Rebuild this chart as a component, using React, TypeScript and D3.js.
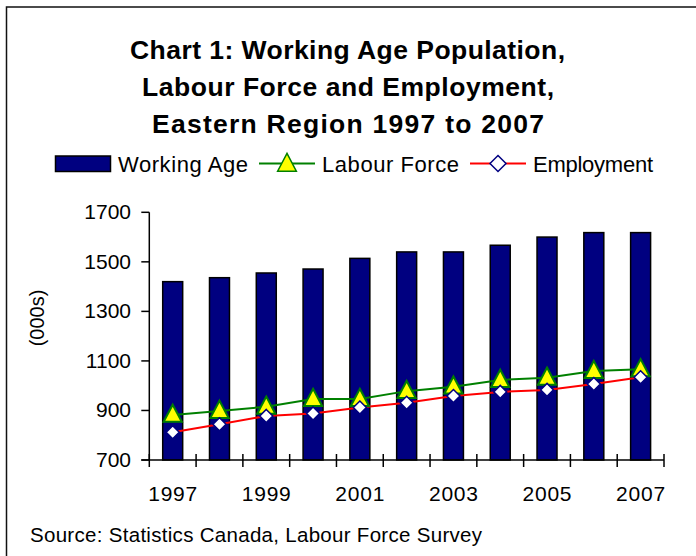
import React from "react";
import * as d3 from "d3";

const years = [1997, 1998, 1999, 2000, 2001, 2002, 2003, 2004, 2005, 2006, 2007];
const workingAge = [1420, 1436, 1455, 1471, 1514, 1540, 1540, 1567, 1600, 1618, 1618];
const labourForce = [882, 898, 915, 946, 946, 978, 996, 1023, 1032, 1059, 1066];
const employment = [812, 844, 878, 888, 912, 931, 958, 975, 983, 1007, 1034];
const yTicks = [700, 900, 1100, 1300, 1500, 1700];
const xLabels = [1997, 1999, 2001, 2003, 2005, 2007];
const titleLines = [
  "Chart 1: Working Age Population,",
  "Labour Force and Employment,",
  "Eastern Region 1997 to 2007",
];
const seriesNames = ["Working Age", "Labour Force", "Employment"];
const yAxisTitle = "(000s)";
const sourceText = "Source: Statistics Canada, Labour Force Survey";

const FONT = "'Liberation Sans', Arial, Helvetica, sans-serif";
const NAVY = "#000080";
const GREEN = "#008000";
const RED = "#FF0000";
const YELLOW = "#FFFF00";

export default function App() {
  const W = 696;
  const H = 556;
  const x0 = 149.3;
  const x1 = 664;
  const yTop = 212.3;
  const yBot = 460;
  const pad = 0.573;

  const x = d3
    .scaleBand<number>()
    .domain(years)
    .range([x0, x1])
    .paddingInner(pad)
    .paddingOuter(pad / 2);
  const y = d3.scaleLinear().domain([700, 1700]).range([yBot, yTop]);
  const cx = (yr: number) => (x(yr) as number) + x.bandwidth() / 2;
  const step = x.step();

  const line = d3
    .line<number>()
    .x((_, i) => cx(years[i]))
    .y((v) => y(v));

  const tri = (px: number, py: number, s: number) =>
    `M${px},${py - s * 0.62} L${px + s * 0.55},${py + s * 0.42} L${px - s * 0.55},${py + s * 0.42} Z`;
  const dia = (px: number, py: number, s: number) =>
    `M${px},${py - s} L${px + s},${py} L${px},${py + s} L${px - s},${py} Z`;

  const tickBoundaries = d3.range(years.length + 1).map((i) => x0 + i * step);
  const titleSpans = [
    [130, 565],
    [142, 554],
    [152, 544],
  ];

  return (
    <svg
      width={W}
      height={H}
      style={{ position: "absolute", left: 0, top: 0, background: "#fff" }}
      fontFamily={FONT}
    >
      <rect x={0} y={0} width={W} height={H} fill="#fff" />
      {/* frame */}
      <path d={`M6.5,${H} L6.5,7 L${W},7`} fill="none" stroke="#111" strokeWidth={1.5} />

      {/* title */}
      {titleLines.map((t, i) => (
        <text
          key={t}
          x={titleSpans[i][0]}
          y={59 + i * 37}
          fontSize={26.5}
          fontWeight="bold"
          fill="#000"
          textLength={titleSpans[i][1] - titleSpans[i][0]}
          lengthAdjust="spacing"
        >
          {t}
        </text>
      ))}

      {/* legend */}
      <g>
        <rect x={55.5} y={156} width={55} height={15.5} fill={NAVY} stroke="#000" strokeWidth={1.5} />
        <text x={118} y={171.5} fontSize={22} fill="#000" textLength={130} lengthAdjust="spacing">
          {seriesNames[0]}
        </text>
        <line x1={259} x2={315} y1={163.5} y2={163.5} stroke={GREEN} strokeWidth={2} />
        <path d={tri(287, 164, 17)} fill={YELLOW} stroke={GREEN} strokeWidth={1.5} />
        <text x={322} y={171.5} fontSize={22} fill="#000" textLength={137} lengthAdjust="spacing">
          {seriesNames[1]}
        </text>
        <line x1={470} x2={526} y1={163.5} y2={163.5} stroke={RED} strokeWidth={2} />
        <path d={dia(498, 163.5, 8)} fill="#fff" stroke={NAVY} strokeWidth={1.5} />
        <text x={533} y={171.5} fontSize={22} fill="#000" textLength={120} lengthAdjust="spacing">
          {seriesNames[2]}
        </text>
      </g>

      {/* bars */}
      {years.map((yr, i) => (
        <rect
          key={yr}
          x={x(yr)}
          y={y(workingAge[i])}
          width={x.bandwidth()}
          height={yBot - y(workingAge[i])}
          fill={NAVY}
          stroke="#000"
          strokeWidth={1.5}
        />
      ))}

      {/* axes */}
      <line x1={x0} x2={x0} y1={yTop} y2={yBot} stroke="#000" strokeWidth={1.5} />
      <line x1={x0 - 8} x2={x1} y1={yBot} y2={yBot} stroke="#000" strokeWidth={1.5} />
      {yTicks.map((t) => (
        <g key={t}>
          <line x1={x0 - 8} x2={x0} y1={y(t)} y2={y(t)} stroke="#000" strokeWidth={1.5} />
          <text x={131} y={y(t) + 7} textAnchor="end" fontSize={21} fill="#000">
            {t}
          </text>
        </g>
      ))}
      {tickBoundaries.map((bx, i) => (
        <line key={i} x1={bx} x2={bx} y1={yBot - 6} y2={yBot + 7} stroke="#000" strokeWidth={1.5} />
      ))}
      {xLabels.map((yr) => (
        <text
          key={yr}
          x={cx(yr) - 24.5}
          y={501}
          fontSize={21}
          fill="#000"
          textLength={49}
          lengthAdjust="spacing"
        >
          {yr}
        </text>
      ))}
      <text
        transform={`translate(44,318) rotate(-90)`}
        textAnchor="middle"
        fontSize={20}
        fill="#000"
      >
        {yAxisTitle}
      </text>

      {/* lines */}
      <path d={line(labourForce) || ""} fill="none" stroke={GREEN} strokeWidth={2} />
      <path d={line(employment) || ""} fill="none" stroke={RED} strokeWidth={2} />
      {labourForce.map((v, i) => (
        <path key={"t" + i} d={tri(cx(years[i]), y(v), 16.5)} fill={YELLOW} stroke={GREEN} strokeWidth={2} />
      ))}
      {employment.map((v, i) => (
        <path key={"d" + i} d={dia(cx(years[i]), y(v), 6.5)} fill="#fff" stroke={NAVY} strokeWidth={1.5} />
      ))}

      {/* source */}
      <text x={30} y={542} fontSize={20.5} fill="#000" textLength={452} lengthAdjust="spacing">
        {sourceText}
      </text>
    </svg>
  );
}
